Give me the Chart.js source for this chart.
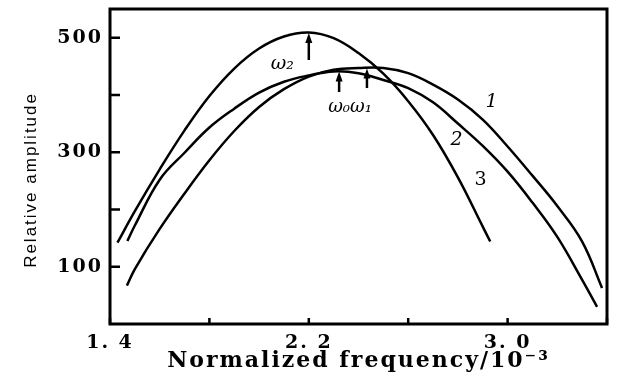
<!DOCTYPE html>
<html>
<head>
<meta charset="utf-8">
<script src="https://cdn.jsdelivr.net/npm/chart.js@4"></script>
<style>
  html, body { margin: 0; padding: 0; background: #fff; }
</style>
</head>
<body>
<canvas id="myChart" width="617" height="374"></canvas>
<script>
// curve 1 (broadest)
const curve1X = [1.468, 1.5, 1.6, 1.7, 1.8, 1.9, 2.0, 2.1, 2.2, 2.3, 2.4, 2.5, 2.6, 2.7, 2.8, 2.9, 3.0, 3.1, 3.2, 3.3, 3.38];
const curve1Y = [67, 96, 166, 228, 286, 337, 379, 410, 432, 444, 447, 447, 438, 418, 392, 357, 310, 259, 206, 144, 63];

// curve 2
const curve2X = [1.47, 1.5, 1.6, 1.7, 1.8, 1.9, 2.0, 2.1, 2.2, 2.3, 2.4, 2.5, 2.6, 2.7, 2.8, 2.9, 3.0, 3.1, 3.2, 3.3, 3.36];
const curve2Y = [145, 172, 252, 299, 343, 376, 404, 423, 434, 441, 438, 426, 412, 387, 350, 311, 266, 212, 152, 77, 30];

// curve 3 (steep one, peak at omega2)
const curve3X = [1.43, 1.5, 1.6, 1.7, 1.8, 1.9, 2.0, 2.1, 2.2, 2.3, 2.4, 2.5, 2.6, 2.7, 2.8, 2.9, 2.93];
const curve3Y = [142, 197, 270, 338, 398, 446, 481, 502, 509, 499, 473, 437, 389, 330, 256, 170, 144];

const xTickLabels = ["1. 4", "", "2. 2", "", "3. 0", ""];
const yTickLabels = [100, 300, 500];
const yTickMarks = [100, 200, 300, 400, 500];

// notes drawn on the plot: text, x, y
const curveNotes = [
  { text: "1", x: 2.935, y: 388, font: "italic 19px 'DejaVu Serif'" },
  { text: "2", x: 2.795, y: 322, font: "italic 19px 'DejaVu Serif'" },
  { text: "3", x: 2.891, y: 252, font: "19px 'DejaVu Serif'" },
  { text: "ω₂", x: 2.093, y: 453, font: "italic 19px 'DejaVu Serif'" },
  { text: "ω₀ω₁", x: 2.366, y: 379, font: "italic 18px 'DejaVu Serif'" },
];
// arrows: x, from y, to y (head at "to")
const arrows = [
  { x: 2.2, from: 461, to: 508 },
  { x: 2.322, from: 405, to: 441 },
  { x: 2.434, from: 412, to: 446 },
];

const toPoints = (xs, ys) => xs.map((x, i) => ({ x: x, y: ys[i] }));

const lineStyle = {
  borderColor: "#000",
  borderWidth: 2.5,
  pointRadius: 0,
  fill: false,
  tension: 0.4,
};

const data = {
  datasets: [
    Object.assign({ label: "1", data: toPoints(curve1X, curve1Y) }, lineStyle),
    Object.assign({ label: "2", data: toPoints(curve2X, curve2Y) }, lineStyle),
    Object.assign({ label: "3", data: toPoints(curve3X, curve3Y) }, lineStyle),
  ],
};

const framePlugin = {
  id: "frame",
  beforeDraw(chart) {
    chart.ctx.letterSpacing = "2px";
  },
  afterDraw(chart) {
    const { ctx, chartArea: a } = chart;
    const xs = chart.scales.x;
    const ys = chart.scales.y;
    ctx.save();
    ctx.letterSpacing = "0px";
    ctx.strokeStyle = "#000";
    ctx.fillStyle = "#000";
    ctx.lineWidth = 3;
    ctx.strokeRect(a.left, a.top, a.right - a.left, a.bottom - a.top);

    // inward tick marks
    ctx.lineWidth = 2.5;
    ctx.beginPath();
    xs.ticks.forEach((t) => {
      const px = xs.getPixelForValue(t.value);
      ctx.moveTo(px, a.bottom);
      ctx.lineTo(px, a.bottom - 6);
    });
    yTickMarks.forEach((v) => {
      const py = ys.getPixelForValue(v);
      ctx.moveTo(a.left, py);
      ctx.lineTo(a.left + 10, py);
    });
    ctx.stroke();

    // arrows
    arrows.forEach((ar) => {
      const px = xs.getPixelForValue(ar.x);
      const p0 = ys.getPixelForValue(ar.from);
      const p1 = ys.getPixelForValue(ar.to);
      ctx.lineWidth = 2.5;
      ctx.beginPath();
      ctx.moveTo(px, p0);
      ctx.lineTo(px, p1 + 6);
      ctx.stroke();
      ctx.beginPath();
      ctx.moveTo(px, p1);
      ctx.lineTo(px - 3.5, p1 + 10);
      ctx.lineTo(px + 3.5, p1 + 10);
      ctx.closePath();
      ctx.fill();
    });

    // curve labels
    ctx.textAlign = "center";
    ctx.textBaseline = "middle";
    curveNotes.forEach((n) => {
      ctx.font = n.font;
      ctx.fillText(n.text, xs.getPixelForValue(n.x), ys.getPixelForValue(n.y));
    });
    ctx.restore();
  },
};

const config = {
  type: "line",
  data: data,
  options: {
    responsive: false,
    animation: false,
    layout: { padding: { top: 9, right: 10, left: 0, bottom: 0 } },
    plugins: { legend: { display: false }, tooltip: { enabled: false } },
    scales: {
      x: {
        type: "linear",
        min: 1.4,
        max: 3.4,
        grid: { display: false, drawTicks: false },
        border: { display: false },
        afterFit: (scale) => {
          scale.height = 50;
          scale.paddingLeft = 0;
          scale.paddingRight = 0;
        },
        ticks: {
          stepSize: 0.4,
          autoSkip: false,
          maxRotation: 0,
          padding: 8,
          color: "#000",
          font: { family: "DejaVu Serif", size: 19, weight: "bold" },
          callback: (value, index) => xTickLabels[index],
        },
        title: {
          display: true,
          text: "Normalized frequency/10⁻³",
          color: "#000",
          padding: { top: 0, bottom: 0 },
          font: { family: "DejaVu Serif", size: 22, weight: "bold" },
        },
      },
      y: {
        min: 0,
        max: 550,
        grid: { display: false, drawTicks: false },
        border: { display: false },
        afterFit: (scale) => {
          scale.width = 110;
          scale.paddingTop = 0;
          scale.paddingBottom = 0;
        },
        ticks: {
          stepSize: 100,
          padding: 7,
          color: "#000",
          font: { family: "DejaVu Serif", size: 19, weight: "bold" },
          callback: (value) => (yTickLabels.includes(value) ? value : ""),
        },
        title: {
          display: true,
          text: "Relative amplitude    ",
          color: "#000",
          padding: { top: 21, bottom: 0 },
          font: { family: "Liberation Sans", size: 17 },
        },
      },
    },
  },
  plugins: [framePlugin],
};

const myChart = new Chart(document.getElementById("myChart"), config);
</script>
</body>
</html>
